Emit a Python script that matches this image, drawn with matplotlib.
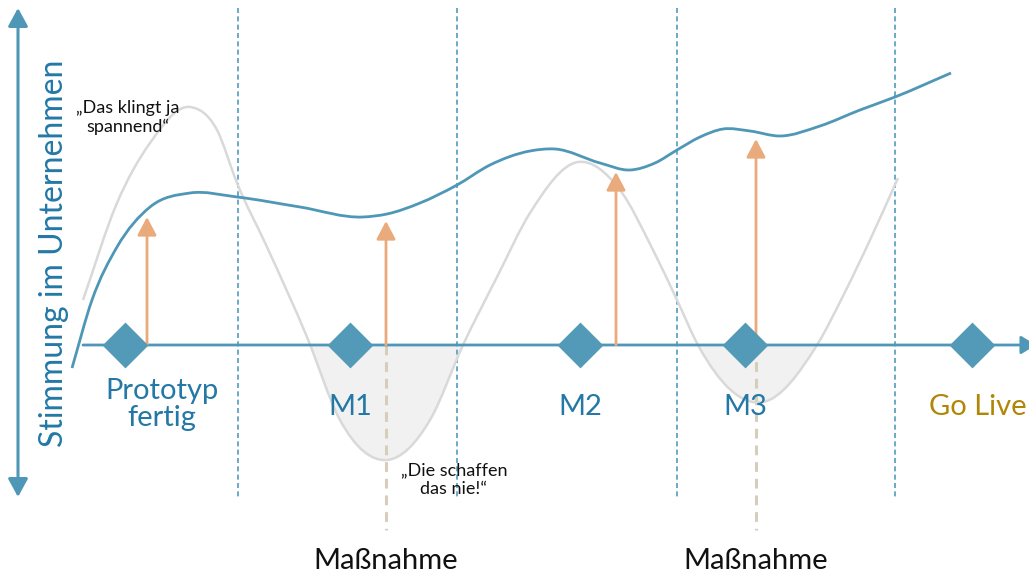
import numpy as np
import matplotlib
matplotlib.use('Agg')
import matplotlib.pyplot as plt
from matplotlib.path import Path
from matplotlib.patches import PathPatch, FancyArrowPatch, Rectangle

plt.rcParams['font.family'] = ['Lato', 'DejaVu Sans']
plt.rcParams['lines.scale_dashes'] = False

# canvas is laid out in pixel units: x to the right, y downward
W, H = 1029, 576
timeline_y = 345

milestone_x = [125, 350, 580, 745, 972]
milestone_labels = ['Prototyp\nfertig', 'M1', 'M2', 'M3', 'Go Live']
label_x = [162, 350, 580, 745, 978]
phase_x = [238, 457, 677, 895]
boost_x = [147, 386, 616, 756]
boost_top = [217, 221, 172, 139]
measure_x = [386, 756]

# overall mood (blue line)
mood_x = [72, 92, 117, 150, 190, 237, 300, 363, 387, 420, 457, 490, 530, 555,
          600, 630, 655, 677, 700, 723, 750, 780, 820, 860, 895, 951]
mood_y = [368, 300, 247, 207, 193, 197, 207, 217, 214, 203, 185, 165, 151, 149,
          163, 170, 163, 150, 137, 129, 131, 136, 126, 110, 97, 73]

# gut feeling swings (grey line)
gut_x = [83, 117, 150, 190, 217, 237, 267, 307, 340, 387, 430, 463, 497, 530,
         578, 620, 653, 677, 698, 763, 817, 845, 870, 898]
gut_y = [300, 203, 143, 107, 130, 183, 247, 337, 420, 460, 420, 345, 277, 213,
         162, 190, 250, 300, 345, 402, 345, 292, 240, 178]

blue = '#4f97b6'
diamond_blue = '#5399b8'
text_blue = '#2378a6'
orange = '#e9aa7c'
beige = '#d6cdbb'
grey_line = '#d9d9d9'
grey_fill = '#f1f1f1'
gold = '#b08606'


def smooth_path(xs, ys):
    # cubic Hermite in x (uneven spacing), written as Bezier segments
    x = np.asarray(xs, float)
    y = np.asarray(ys, float)
    h = np.diff(x)
    d = np.diff(y) / h
    m = np.empty_like(y)
    m[0], m[-1] = d[0], d[-1]
    m[1:-1] = (d[:-1] * h[1:] + d[1:] * h[:-1]) / (h[:-1] + h[1:])
    verts = [(x[0], y[0])]
    codes = [Path.MOVETO]
    for i in range(len(x) - 1):
        verts += [(x[i] + h[i] / 3, y[i] + m[i] * h[i] / 3),
                  (x[i + 1] - h[i] / 3, y[i + 1] - m[i + 1] * h[i] / 3),
                  (x[i + 1], y[i + 1])]
        codes += [Path.CURVE4] * 3
    return verts, codes


fig = plt.figure(figsize=(W / 100, H / 100), dpi=100)
ax = fig.add_axes([0, 0, 1, 1])
ax.set_xlim(0, W)
ax.set_ylim(H, 0)
ax.axis('off')

# grey troughs below the timeline
gv, gc = smooth_path(gut_x, gut_y)
fv = gv + [(gut_x[-1], timeline_y), (gut_x[0], timeline_y), (gut_x[0], timeline_y)]
fc = gc + [Path.LINETO, Path.LINETO, Path.CLOSEPOLY]
fill = PathPatch(Path(fv, fc), facecolor=grey_fill, edgecolor='none', zorder=1)
ax.add_patch(fill)
clip = Rectangle((0, timeline_y), W, H - timeline_y, transform=ax.transData)
fill.set_clip_path(clip)

# phase separators
for x in phase_x:
    ax.plot([x, x], [8, 497], color='#5ea2c2', lw=1.3, dashes=(3.6, 2.4), zorder=1.5)

# Maßnahme markers
for x in measure_x:
    ax.plot([x, x], [timeline_y, 530], color=beige, lw=2.2, dashes=(7, 5), zorder=1.6)
    ax.text(x, 569, 'Maßnahme', ha='center', va='baseline', fontsize=21, color='#111111')

ax.add_patch(PathPatch(Path(gv, gc), facecolor='none', edgecolor=grey_line, lw=1.8,
                       zorder=2))

mv, mc = smooth_path(mood_x, mood_y)
ax.add_patch(PathPatch(Path(mv, mc), facecolor='none', edgecolor=blue, lw=2.0,
                       capstyle='butt', zorder=3))

# timeline
ax.add_patch(FancyArrowPatch((83, timeline_y), (1036, timeline_y),
                             arrowstyle='-|>,head_length=9,head_width=5.5',
                             color=blue, lw=2.0, shrinkA=0, shrinkB=0, zorder=3))

# vertical mood axis
ax.add_patch(FancyArrowPatch((18, 497), (18, 8),
                             arrowstyle='<|-|>,head_length=11,head_width=6',
                             color=blue, lw=2.2, shrinkA=0, shrinkB=0, zorder=3))
ax.text(54, 253, 'Stimmung im Unternehmen', rotation=90, ha='center', va='center',
        fontsize=23, color=text_blue)

# measures lifting the mood
for x, top in zip(boost_x, boost_top):
    ax.add_patch(FancyArrowPatch((x, timeline_y), (x, top),
                                 arrowstyle='-|>,head_length=11,head_width=5.8',
                                 color=orange, lw=2.0, shrinkA=0, shrinkB=0, zorder=4))

# milestones
diamond = [(0, 1), (1, 0), (0, -1), (-1, 0), (0, 1)]
ax.plot(milestone_x, [timeline_y] * len(milestone_x), linestyle='none',
        marker=diamond, markersize=33, color=diamond_blue, markeredgewidth=0,
        zorder=5)

for x, lab in zip(label_x, milestone_labels):
    col = gold if lab == 'Go Live' else text_blue
    ax.text(x, 415 if '\n' not in lab else 378, lab, ha='center',
            va='baseline' if '\n' not in lab else 'top', fontsize=21, color=col,
            linespacing=1.05, multialignment='center')

ax.text(128, 100, '„Das klingt ja\nspannend“', ha='center', va='top', fontsize=13,
        color='#111111', linespacing=1.2)
ax.text(454, 462, '„Die schaffen\ndas nie!“', ha='center', va='top', fontsize=13,
        color='#111111', linespacing=1.2)

fig.savefig('out.png', dpi=100)
